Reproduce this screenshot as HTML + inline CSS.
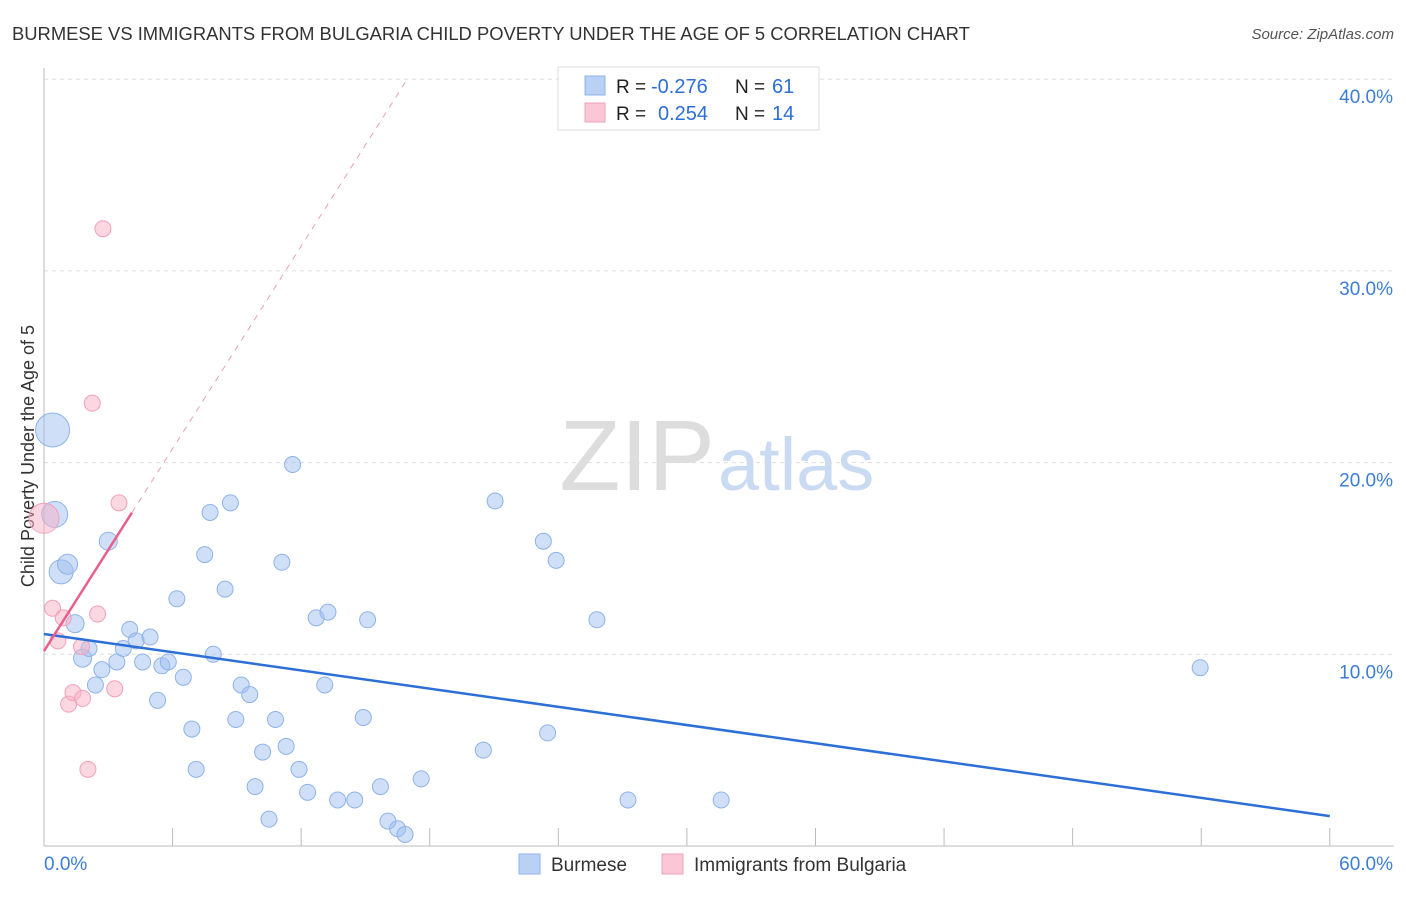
<!DOCTYPE html>
<html><head><meta charset="utf-8"><style>
body{margin:0;background:#fff;font-family:"Liberation Sans",sans-serif}
svg text{font-family:"Liberation Sans",sans-serif}
</style></head><body>
<svg id="c" width="1406" height="892">
<text x="12" y="40" font-size="18.4" fill="#333">BURMESE VS IMMIGRANTS FROM BULGARIA CHILD POVERTY UNDER THE AGE OF 5 CORRELATION CHART</text>
<text x="1394" y="39" font-size="15" fill="#555" font-style="italic" text-anchor="end">Source: ZipAtlas.com</text>
<text x="34" y="456" font-size="18" fill="#333" text-anchor="middle" transform="rotate(-90 34 456)">Child Poverty Under the Age of 5</text>
<text x="715" y="490" font-size="100" fill="#ddd" text-anchor="end" font-family="Liberation Serif">ZIP</text>
<text x="718" y="490" font-size="74" fill="#c9daf3">atlas</text>
<g id="grid"></g><g id="marks"></g>
<g>
<rect x="558" y="67" width="261" height="63" fill="#fff" stroke="#ddd"/>
<rect x="585" y="76" width="20" height="19" fill="#b9d1f5" stroke="#8fb3e8"/>
<rect x="585" y="103" width="20" height="19" fill="#fbc6d6" stroke="#f0a0ba"/>
<text x="616" y="93" font-size="19" fill="#222">R =</text>
<text x="651" y="93" font-size="20" fill="#2c6fd6">-0.276</text>
<text x="735" y="93" font-size="19" fill="#222">N =</text>
<text x="772" y="93" font-size="20" fill="#2c6fd6">61</text>
<text x="616" y="120" font-size="19" fill="#222">R =</text>
<text x="658" y="120" font-size="20" fill="#2c6fd6">0.254</text>
<text x="735" y="120" font-size="19" fill="#222">N =</text>
<text x="772" y="120" font-size="20" fill="#2c6fd6">14</text>
</g>
<g>
<rect x="519" y="854" width="21" height="20" fill="#b9d1f5" stroke="#8fb3e8"/>
<text x="551" y="871" font-size="19" fill="#333">Burmese</text>
<rect x="662" y="854" width="21" height="20" fill="#fbc6d6" stroke="#f0a0ba"/>
<text x="694" y="871" font-size="19" fill="#333">Immigrants from Bulgaria</text>
</g>
</svg>
<script>
const xTicks=[0,60];
const yTicks=[10,20,30,40];
const blueX=[0.4,0.5,0.8,1.1,1.45,1.8,2.1,2.4,2.7,3.0,3.4,3.7,4.0,4.3,4.6,4.95,5.3,5.5,5.8,6.2,6.5,6.9,7.1,7.5,7.75,7.9,8.45,8.7,8.95,9.2,9.6,9.85,10.2,10.5,10.8,11.1,11.3,11.6,11.9,12.3,12.7,13.1,13.25,13.7,14.5,14.9,15.1,15.7,16.05,16.5,16.85,17.6,20.5,21.05,23.3,23.5,23.9,25.8,27.25,31.6,53.95];
const blueY=[21.7,17.3,14.3,14.7,11.6,9.8,10.3,8.4,9.2,15.9,9.6,10.3,11.3,10.7,9.6,10.9,7.6,9.4,9.6,12.9,8.8,6.1,4.0,15.2,17.4,10.0,13.4,17.9,6.6,8.4,7.9,3.1,4.9,1.4,6.6,14.8,5.2,19.9,4.0,2.8,11.9,8.4,12.2,2.4,2.4,6.7,11.8,3.1,1.3,0.9,0.6,3.5,5.0,18.0,15.9,5.9,14.9,11.8,2.4,2.4,9.3];
const blueR=[17,13,12,10,9,9,8,8,8,9,8,8,8,8,8,8,8,8,8,8,8,8,8,8,8,8,8,8,8,8,8,8,8,8,8,8,8,8,8,8,8,8,8,8,8,8,8,8,8,8,8,8,8,8,8,8,8,8,8,8,8];
const pinkX=[0.4,0,0.65,0.9,1.15,1.35,1.75,1.8,2.05,2.25,2.5,2.75,3.3,3.5];
const pinkY=[12.4,17.1,10.7,11.9,7.4,8.0,10.4,7.7,4.0,23.1,12.1,32.2,8.2,17.9];
const pinkR=[8,15,8,8,8,8,8,8,8,8,8,8,8,8];
const blueLine=[11.06,1.56];
const pinkLine=[10.17,1.76];
const X=v=>44+v*21.43, Y=v=>846-v*19.17;
const NS="http://www.w3.org/2000/svg";
const g=document.getElementById('grid'), m=document.getElementById('marks');
function mk(tag,at,par){const e=document.createElementNS(NS,tag);for(const k in at)e.setAttribute(k,at[k]);par.appendChild(e);return e;}
yTicks.forEach(t=>{
const l=mk('line',{x1:44,x2:1394,y1:Y(t),y2:Y(t),stroke:'#ddd','stroke-dasharray':'4,4'},g);


const tx=mk('text',{x:1393,y:Y(t)+24,'font-size':19,fill:'#3b7dd8','text-anchor':'end'},g);tx.textContent=t.toFixed(1)+'%';


});
mk('line',{x1:44,x2:44,y1:68,y2:846,stroke:'#bbb'},g);
mk('line',{x1:44,x2:1394,y1:846,y2:846,stroke:'#bbb'},g);
for(let i=1;i<=10;i++){mk('line',{x1:X(i*6),x2:X(i*6),y1:828,y2:846,stroke:'#bbb'},g);}
xTicks.forEach((t,i)=>{const tx=mk('text',{x:i?1393:44,y:870,'font-size':19,fill:'#3b7dd8','text-anchor':i?'end':'start'},g);tx.textContent=t.toFixed(1)+'%';

});
blueX.forEach((v,i)=>{const c=mk('circle',{cx:X(v),cy:Y(blueY[i]),r:blueR[i],fill:'rgba(160,192,240,0.5)',stroke:'#8fb3e8'},m);

});
pinkX.forEach((v,i)=>{const c=mk('circle',{cx:X(v),cy:Y(pinkY[i]),r:pinkR[i],fill:'rgba(247,175,198,0.5)',stroke:'#f0a0ba'},m);

});
const bl=mk('line',{x1:X(0),y1:Y(blueLine[0]),x2:X(60),y2:Y(blueLine[1]),stroke:'#2c6fd6','stroke-width':2.5},m);


const xe=(40-pinkLine[0])/pinkLine[1];
const pd=mk('line',{x1:X(4.1),y1:Y(pinkLine[0]+pinkLine[1]*4.1),x2:X(xe),y2:Y(40),stroke:'#e8a0b8','stroke-width':1,'stroke-dasharray':'6,6'},m);


const pl=mk('line',{x1:X(0),y1:Y(pinkLine[0]),x2:X(4.1),y2:Y(pinkLine[0]+pinkLine[1]*4.1),stroke:'#e8608a','stroke-width':2.5},m);


</script>
</body></html>
